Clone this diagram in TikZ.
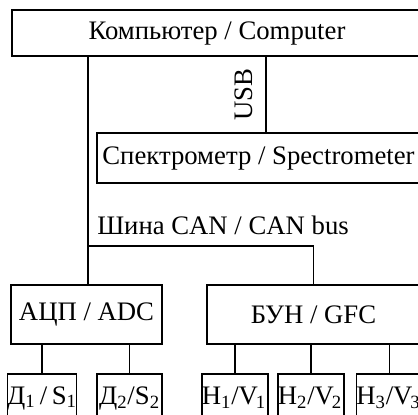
\documentclass[tikz,border=0pt]{standalone}
\usepackage{fontspec}
\setmainfont{Liberation Serif}
\usepackage{tikz}
\usetikzlibrary{positioning, calc}

\begin{document}
\begin{tikzpicture}[
        x=0.025cm, y=-0.025cm,
        every node/.style={font=\fontsize{19}{22}\selectfont},
        block/.style={
            rectangle,
            draw,
            line width=1pt,
            inner sep=0pt
        },
        small block/.style={
            block,
            minimum height=1.2cm
        },
        wire/.style={line width=1pt}
    ]

    \useasboundingbox (0,0) rectangle (418,414);
    \clip (0,0) rectangle (418,414);

    % верхний уровень
    \node[block, minimum width=10.25cm, minimum height=1.15cm] (comp) at (217,33) {Компьютер / Computer};
    \node[block, minimum width=8.075cm, minimum height=1.25cm] (spec) at (258.5,158) {Спектрометр / Spectrometer};

    % блоки на шине
    \node[block, minimum width=3.775cm, minimum height=1.475cm] (adc) at (86.5,314.5) {АЦП / ADC};
    \node[block, minimum width=5.325cm, minimum height=1.475cm] (gfc) at (313.5,314.5) {БУН / GFC};

    % датчики
    \node[small block, minimum width=1.55cm] (s1) at (42,398) {Д\textsubscript{1}\,/\,S\textsubscript{1}};
    \node[small block, minimum width=1.625cm] (s2) at (129.5,398) {Д\textsubscript{2}/S\textsubscript{2}};

    % клапаны
    \foreach \name/\x/\w/\i in {v1/235/1.4/1, v2/311/1.5/2, v3/389.5/1.525/3} {
        \node[small block, minimum width=\w cm] (\name) at (\x,398) {H\textsubscript{\i}/V\kern-1.5pt\textsubscript{\i}\kern1.5pt};
    }

    % USB
    \coordinate (usb) at (266,0);
    \draw[wire] (usb |- comp.south) -- node[midway, rotate=90, anchor=south, inner sep=9pt] (usblabel) {USB} (usb |- spec.north);

    % шина CAN
    \coordinate (bus) at (88,246);
    \node[anchor=west, inner sep=0pt] (buslabel) at (97,225) {Шина CAN / CAN bus};
    \draw[wire] (bus |- comp.south) -- (bus |- adc.north);
    \draw[wire] (bus) -| (gfc.north);

    % связи вниз
    \foreach \b in {s1, s2}
        \draw[wire] (adc.south -| \b) -- (\b.north);
    \foreach \b in {v1, v2, v3}
        \draw[wire] (gfc.south -| \b) -- (\b.north);

\end{tikzpicture}
\end{document}
